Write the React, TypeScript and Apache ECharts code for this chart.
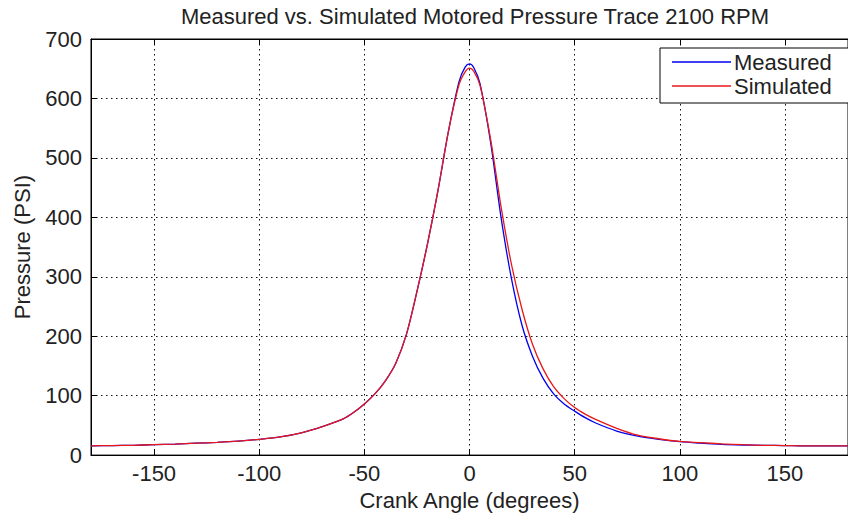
import React, { useEffect, useRef } from "react";
import * as echarts from "echarts";

const titleText = "Measured vs. Simulated Motored Pressure Trace 2100 RPM";
const xName = "Crank Angle (degrees)";
const yName = "Pressure (PSI)";
const seriesNames = ["Measured", "Simulated"];

const angles = [
  -180, -170, -160, -150, -140, -130, -120, -110, -100, -90, -80, -70, -60, -55, -50, -45, -40, -35, -30, -25,
  -20, -15, -10, -5, -2, 0, 2, 5, 10, 15, 20, 25, 30, 35, 40, 45, 50, 55, 60, 70, 80, 90, 100, 110, 120, 130, 140,
  150, 160, 170, 180,
];

const measured = [
  15.5, 16, 16.5, 17.5, 18.5, 20, 21.5, 23.5, 26.5, 30.5, 37.5, 48, 61, 72, 86, 103, 125, 155, 203, 275,
  355, 445, 545, 628, 653, 658, 652, 625, 527, 400, 296, 218, 166, 129, 103, 86, 74, 63, 54, 40.5, 32, 26.5, 22.5,
  20, 18, 17, 16.5, 16, 15.5, 15.5, 15.5,
];

const simulated = [
  15.5, 16, 16.5, 17.5, 18.5, 20, 21.5, 23.5, 26.5, 30.5, 37.5, 48, 61, 72, 86, 103, 125, 155, 203, 275,
  355, 445, 545, 623, 645, 651, 646, 622, 532, 418, 320, 245, 186, 145, 115, 95, 80, 69, 60, 45, 33.5, 27.5, 23,
  21, 19, 17.5, 16.5, 16, 15.5, 15.5, 15.5,
];

const FONT = "'Liberation Sans', Arial, sans-serif";
const TXT = "#222";

export default function App() {
  const ref = useRef<HTMLDivElement>(null);
  useEffect(() => {
    if (!ref.current) return;
    const chart = echarts.init(ref.current, null, { renderer: "svg" });
    const xMin = -180;
    const xMax = 180;
    const gridLeft = 91;
    const gridRight = -11;
    const plotCenter = gridLeft + (848 - gridLeft - gridRight) / 2;
    chart.setOption({
      animation: false,
      backgroundColor: "#fff",
      textStyle: { fontFamily: FONT },
      grid: {
        left: gridLeft,
        right: gridRight,
        top: 39,
        bottom: 54,
        show: true,
        borderColor: "#000",
        borderWidth: 1,
        backgroundColor: "transparent",
      },
      graphic: [
        {
          type: "text",
          x: plotCenter,
          y: 5,
          style: {
            text: titleText,
            align: "center",
            verticalAlign: "top",
            fontSize: 22,
            fontFamily: FONT,
            fill: TXT,
          },
        },
      ],
      legend: {
        data: seriesNames,
        orient: "vertical",
        left: 660,
        top: 48,
        padding: [3, 22, 6, 12],
        itemGap: 2,
        itemWidth: 59,
        itemHeight: 1.3,
        icon: "rect",
        backgroundColor: "#fff",
        borderColor: "#000",
        borderWidth: 1,
        borderRadius: 0,
        textStyle: { fontSize: 22, color: TXT, fontFamily: FONT, padding: [0, 0, 0, -2] },
      },
      xAxis: [
        {
          type: "value",
          min: xMin,
          max: xMax,
          splitNumber: 7,
          name: xName,
          nameLocation: "middle",
          nameGap: 21,
          nameTextStyle: { fontSize: 22, color: TXT, fontFamily: FONT },
          axisLine: { show: true, onZero: false, lineStyle: { color: "#000", width: 1 } },
          axisTick: { show: true, inside: true, length: 6, lineStyle: { color: "#000" } },
          axisLabel: {
            fontSize: 22,
            color: TXT,
            margin: 7,
            fontFamily: FONT,
            showMinLabel: false,
            showMaxLabel: false,
          },
          splitLine: { show: true, lineStyle: { color: "#111", type: [1.5, 3.5], width: 1 } },
        },
        {
          type: "value",
          position: "top",
          min: xMin,
          max: xMax,
          splitNumber: 7,
          axisLine: { show: true, onZero: false, lineStyle: { color: "#000", width: 1 } },
          axisTick: { show: true, inside: true, length: 6, lineStyle: { color: "#000" } },
          axisLabel: { show: false },
          splitLine: { show: false },
        },
      ],
      yAxis: [
        {
          type: "value",
          min: 0,
          max: 700,
          interval: 100,
          name: yName,
          nameLocation: "middle",
          nameGap: 58,
          nameTextStyle: { fontSize: 22, color: TXT, fontFamily: FONT },
          axisLine: { show: true, onZero: false, lineStyle: { color: "#000", width: 1 } },
          axisTick: { show: true, inside: true, length: 6, lineStyle: { color: "#000" } },
          axisLabel: { fontSize: 22, color: TXT, margin: 9, fontFamily: FONT },
          splitLine: { show: true, lineStyle: { color: "#111", type: [1.5, 3.5], width: 1 } },
        },
      ],
      series: [
        {
          name: seriesNames[0],
          type: "line",
          xAxisIndex: 0,
          data: angles.map((a, i) => [a, measured[i]]),
          symbol: "none",
          smooth: 0.3,
          lineStyle: { color: "#0000ee", width: 1.3 },
          itemStyle: { color: "#0000ee" },
          z: 2,
        },
        {
          name: seriesNames[1],
          type: "line",
          xAxisIndex: 0,
          data: angles.map((a, i) => [a, simulated[i]]),
          symbol: "none",
          smooth: 0.3,
          lineStyle: { color: "#e81818", width: 1.3 },
          itemStyle: { color: "#e81818" },
          z: 3,
        },
      ],
    });
    return () => chart.dispose();
  }, []);
  return (
    <div
      ref={ref}
      style={{ position: "fixed", left: 0, top: 0, width: 848, height: 516, background: "#fff" }}
    />
  );
}
